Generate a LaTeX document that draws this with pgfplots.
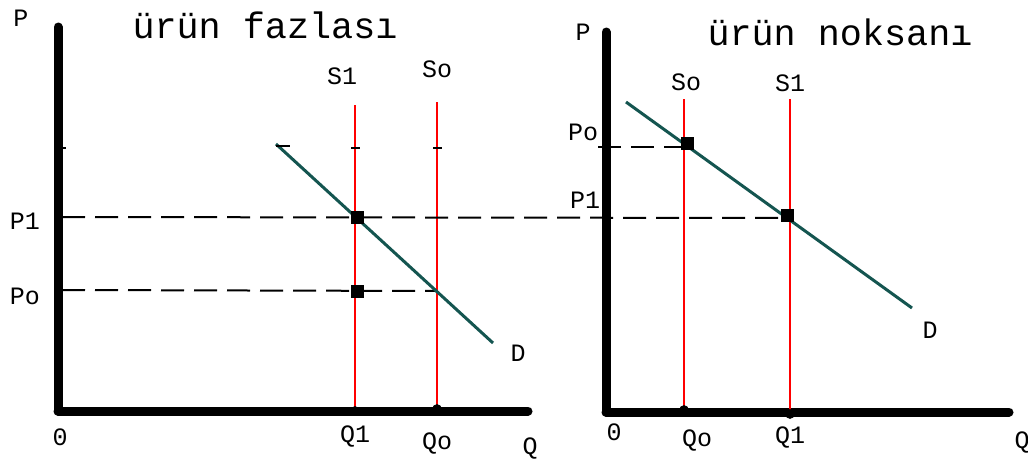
\documentclass[border=0pt]{standalone}
\usepackage{fontspec}
\setmainfont{Liberation Mono}
\usepackage{pgfplots}
\pgfplotsset{compat=1.18}
\definecolor{dcol}{RGB}{20,85,80}
\pgfplotsset{
  econ/.style={scale only axis, axis lines*=left,
    axis line style={line width=4.5pt, line cap=round, black},
    xtick=\empty, ytick=\empty, clip=false, anchor=south west},
  supply/.style={red, line width=1pt},
  demand/.style={dcol, line width=1.5pt},
  dline/.style={black, line width=1pt, dash pattern=on 11.5pt off 5pt},
  tk/.style={black, line width=0.9pt},
}
\tikzset{lab/.style={font=\fontsize{12.5}{14}\selectfont}, ttl/.style={font=\fontsize{18.4}{20}\selectfont}}
\begin{document}
\begin{tikzpicture}
\useasboundingbox (0pt,0pt) rectangle (514pt,231pt);
% ---------------- left panel: urun fazlasi
\begin{axis}[econ, at={(29pt,25.5pt)}, width=235pt, height=192pt,
  xmin=0, xmax=470, ymin=0, ymax=384]
\addplot[supply] coordinates {(297,0) (297,306)};
\addplot[supply] coordinates {(379,0) (379,309)};
\addplot[dline] coordinates {(4,194) (732,193)};
\addplot[dline] coordinates {(4,121) (379,120)};
\addplot[demand] coordinates {(218,267) (435,68)};
\addplot[tk] coordinates {(0,263) (8,263)};
\addplot[tk] coordinates {(293,263) (302,263)};
\addplot[tk] coordinates {(375,263) (384,263)};
\addplot[tk] coordinates {(218,265) (232,265)};
\addplot[only marks, mark=square*, mark size=3pt, black] coordinates {(299,194) (299,120)};
\addplot[only marks, mark=*, mark size=2.2pt, black] coordinates {(297,0) (379,2)};
\node[lab] at (-37,393) {P};
\node[ttl] at (207,386) {ürün fazlası};
\node[lab] at (284,335) {S1};
\node[lab] at (379,342) {So};
\node[lab] at (-33,190) {P1};
\node[lab] at (-33,115) {Po};
\node[lab] at (2,-26) {0};
\node[lab] at (297,-25) {Q1};
\node[lab] at (379,-32) {Qo};
\node[lab] at (472,-37) {Q};
\node[lab] at (460,58) {D};
\end{axis}
% ---------------- right panel: urun noksani
\begin{axis}[econ, at={(303pt,25pt)}, width=201.5pt, height=190pt,
  xmin=0, xmax=403, ymin=0, ymax=380]
\addplot[supply] coordinates {(78,0) (78,313)};
\addplot[supply] coordinates {(184,0) (184,313)};
\addplot[dline] coordinates {(-8,265) (80,265)};
\addplot[demand] coordinates {(20,310) (306,104)};
\addplot[only marks, mark=square*, mark size=3pt, black] coordinates {(81,269) (181,197)};
\addplot[only marks, mark=*, mark size=2.2pt, black] coordinates {(78,2) (184,-2)};
\node[lab] at (-23,380) {P};
\node[ttl] at (234,380) {ürün noksanı};
\node[lab] at (80,330) {So};
\node[lab] at (184,329) {S1};
\node[lab] at (-23,280) {Po};
\node[lab] at (-21,212) {P1};
\node[lab] at (8,-20) {0};
\node[lab] at (91,-28) {Qo};
\node[lab] at (184,-25) {Q1};
\node[lab] at (416,-30) {Q};
\node[lab] at (324,82) {D};
\end{axis}
\end{tikzpicture}
\end{document}
